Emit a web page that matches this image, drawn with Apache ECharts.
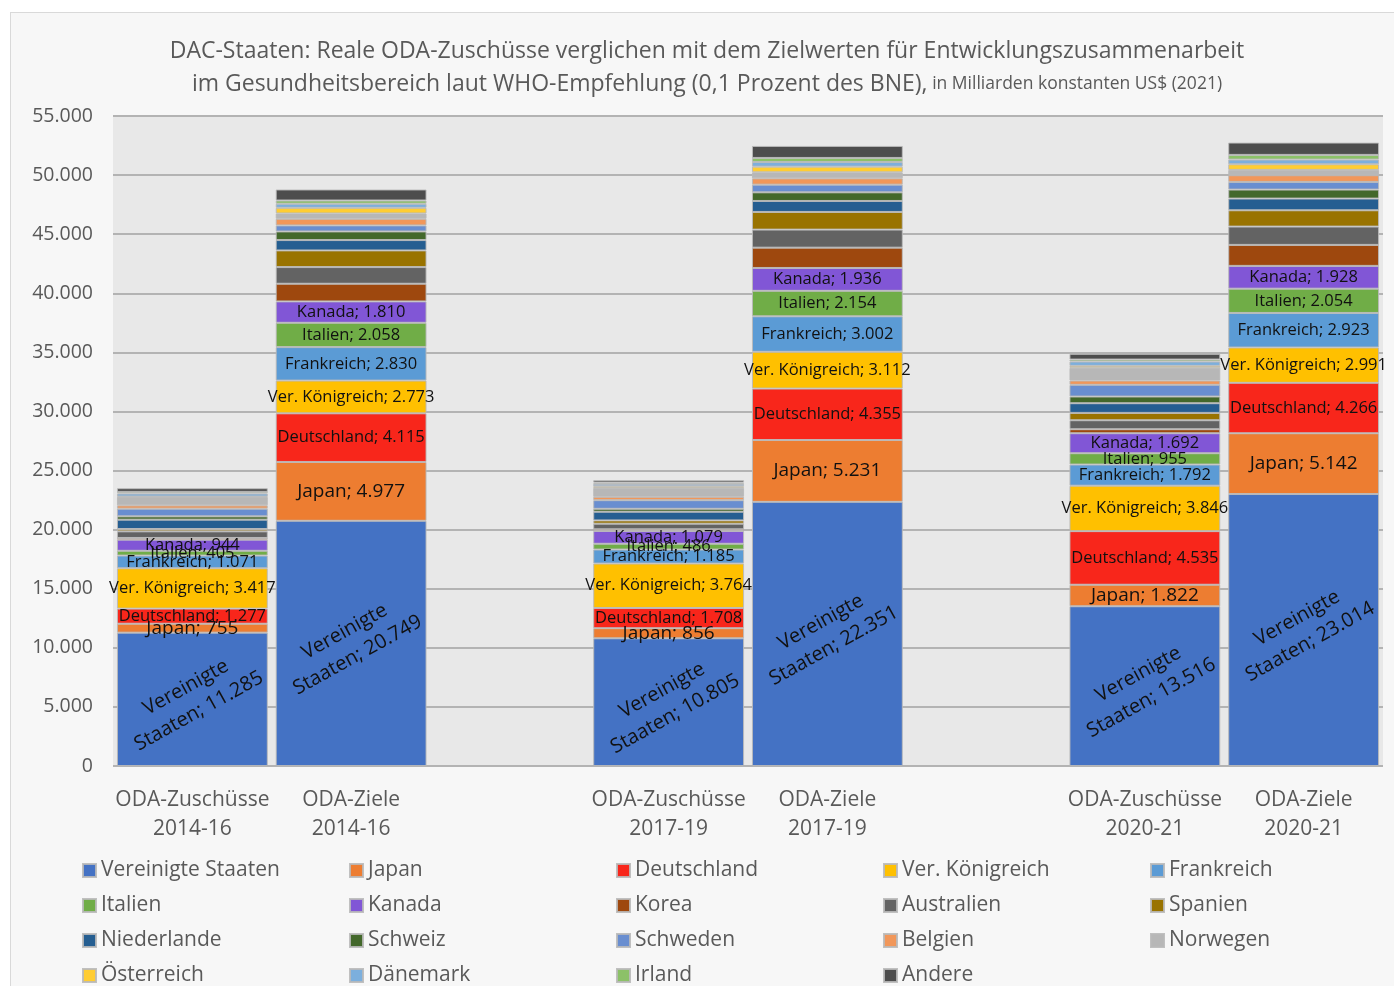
<!DOCTYPE html>
<html>
<head>
<meta charset="utf-8">
<script src="https://cdn.jsdelivr.net/npm/echarts@6/dist/echarts.min.js"></script>
<style>
html, body { margin: 0; padding: 0; background: #fff; }
#panel { position: absolute; left: 10px; top: 12px; width: 1400px; height: 990px; background: #f7f7f7; border: 1px solid #d9d9d9; }
#main { position: absolute; left: 0; top: 0; width: 1394px; height: 986px; }
</style>
</head>
<body>
<div id="panel"></div>
<div id="main"></div>
<script>
// Kategorien (leere Einträge = Abstand zwischen den Zeiträumen)
const categories = ['ODA-Zuschüsse\n2014-16', 'ODA-Ziele\n2014-16', '', 'ODA-Zuschüsse\n2017-19', 'ODA-Ziele\n2017-19', '', 'ODA-Zuschüsse\n2020-21', 'ODA-Ziele\n2020-21'];
const gapIndex = [2, 5];

// Werte je Balken: Zuschüsse 14-16, Ziele 14-16, Zuschüsse 17-19, Ziele 17-19, Zuschüsse 20-21, Ziele 20-21
const usa         = [11285, 20749, 10805, 22351, 13516, 23014];
const japan       = [755, 4977, 856, 5231, 1822, 5142];
const deutschland = [1277, 4115, 1708, 4355, 4535, 4266];
const vk          = [3417, 2773, 3764, 3112, 3846, 2991];
const frankreich  = [1071, 2830, 1185, 3002, 1792, 2923];
const italien     = [405, 2058, 486, 2154, 955, 2054];
const kanada      = [944, 1810, 1079, 1936, 1692, 1928];
const korea       = [140, 1495, 140, 1720, 340, 1775];
const australien  = [560, 1410, 480, 1525, 760, 1550];
const spanien     = [200, 1410, 280, 1495, 620, 1380];
const niederlande = [790, 875, 730, 930, 820, 990];
const schweiz     = [280, 730, 250, 730, 565, 760];
const schweden    = [650, 510, 730, 650, 990, 650];
const belgien     = [280, 560, 280, 535, 365, 565];
const norwegen    = [700, 450, 760, 510, 1070, 450];
const oesterreich = [50, 480, 140, 480, 170, 480];
const daenemark   = [250, 340, 200, 395, 365, 395];
const irland      = [140, 280, 110, 340, 170, 395];
const andere      = [310, 930, 200, 1015, 480, 1040];

const yTicks = [0, 55000, 5000]; // min, max, interval

const countries = [
  ['Vereinigte Staaten', usa, '#4472C4'],
  ['Japan', japan, '#ED7D31'],
  ['Deutschland', deutschland, '#F8261B'],
  ['Ver. Königreich', vk, '#FFC000'],
  ['Frankreich', frankreich, '#5B9BD5'],
  ['Italien', italien, '#70AD47'],
  ['Kanada', kanada, '#8156D6'],
  ['Korea', korea, '#9E480E'],
  ['Australien', australien, '#636363'],
  ['Spanien', spanien, '#997300'],
  ['Niederlande', niederlande, '#255E91'],
  ['Schweiz', schweiz, '#43682B'],
  ['Schweden', schweden, '#698ED0'],
  ['Belgien', belgien, '#F1975A'],
  ['Norwegen', norwegen, '#B7B7B7'],
  ['Österreich', oesterreich, '#FFCD33'],
  ['Dänemark', daenemark, '#7CAFDD'],
  ['Irland', irland, '#8CC168'],
  ['Andere', andere, '#4D4D4D']
];

const FONT = 'Open Sans';
const GREY = '#595959';

function fmt(v) {
  return String(Math.round(v)).replace(/\B(?=(\d{3})+(?!\d))/g, '.');
}

function spread(vals) {
  let out = [], k = 0;
  for (let i = 0; i < categories.length; i++) {
    out.push(gapIndex.indexOf(i) >= 0 ? null : vals[k++]);
  }
  return out;
}

const series = countries.map((c, i) => {
  let label = { show: false };
  if (i === 0) {
    label = {
      show: true, position: 'inside', rotate: 29, fontSize: 20, color: '#111', fontFamily: FONT,
      lineHeight: 27, align: 'center',
      formatter: p => 'Vereinigte\nStaaten; ' + fmt(p.value)
    };
  } else if (i < 7) {
    label = {
      show: true, position: 'inside', fontSize: i === 1 ? 19 : 16.5, color: '#111', fontFamily: FONT,
      formatter: p => p.seriesName + '; ' + fmt(p.value)
    };
  }
  return {
    name: c[0],
    type: 'bar',
    stack: 'total',
    barCategoryGap: '5%',
    data: spread(c[1]),
    itemStyle: { color: c[2], borderColor: 'rgba(185,185,185,0.9)', borderWidth: 1 },
    label: label,
    emphasis: { disabled: true }
  };
});

// Legende in 5 Spalten
const legends = [];
for (let col = 0; col < 5; col++) {
  const names = [];
  for (let r = 0; r < 4; r++) {
    const idx = r * 5 + col;
    if (idx < countries.length) names.push(countries[idx][0]);
  }
  legends.push({
    orient: 'vertical',
    left: 82 + col * 267,
    top: 860,
    padding: 0,
    itemGap: 14,
    itemWidth: 13,
    itemHeight: 13,
    icon: 'rect',
    selectedMode: false,
    textStyle: { fontSize: 21, color: GREY, fontFamily: FONT, padding: [0, 0, 0, 0] },
    data: names
  });
}

const chart = echarts.init(document.getElementById('main'));
chart.setOption({
  animation: false,
  textStyle: { fontFamily: FONT },
  title: {
    left: 707,
    top: 35,
    padding: 0,
    textAlign: 'center',
    text: '{a|DAC-Staaten: Reale ODA-Zuschüsse verglichen mit dem Zielwerten für Entwicklungszusammenarbeit}\n' +
          '{a|im Gesundheitsbereich laut WHO-Empfehlung (0,1 Prozent des BNE),} {b|in Milliarden konstanten US$ (2021)}',
    textStyle: {
      fontWeight: 'normal',
      rich: {
        a: { fontSize: 23, color: GREY, fontFamily: FONT, fontWeight: 'normal', lineHeight: 33 },
        b: { fontSize: 17.5, color: GREY, fontFamily: FONT, fontWeight: 'normal', lineHeight: 33 }
      }
    }
  },
  legend: legends,
  grid: {
    left: 113, right: 11, top: 116, bottom: 220,
    show: true, backgroundColor: '#e8e8e8', borderWidth: 0
  },
  xAxis: {
    type: 'category',
    data: categories,
    axisLine: { show: false },
    axisTick: { show: false },
    axisLabel: { interval: 0, fontSize: 21, lineHeight: 29, color: GREY, margin: 20, fontFamily: FONT }
  },
  yAxis: {
    type: 'value',
    min: yTicks[0],
    max: yTicks[1],
    interval: yTicks[2],
    axisLine: { show: false },
    axisTick: { show: false },
    axisLabel: { fontSize: 19.5, color: GREY, margin: 20, fontFamily: FONT, formatter: v => fmt(v) },
    splitLine: { lineStyle: { color: '#b3b3b3', width: 2 } }
  },
  series: series
});
</script>
</body>
</html>
